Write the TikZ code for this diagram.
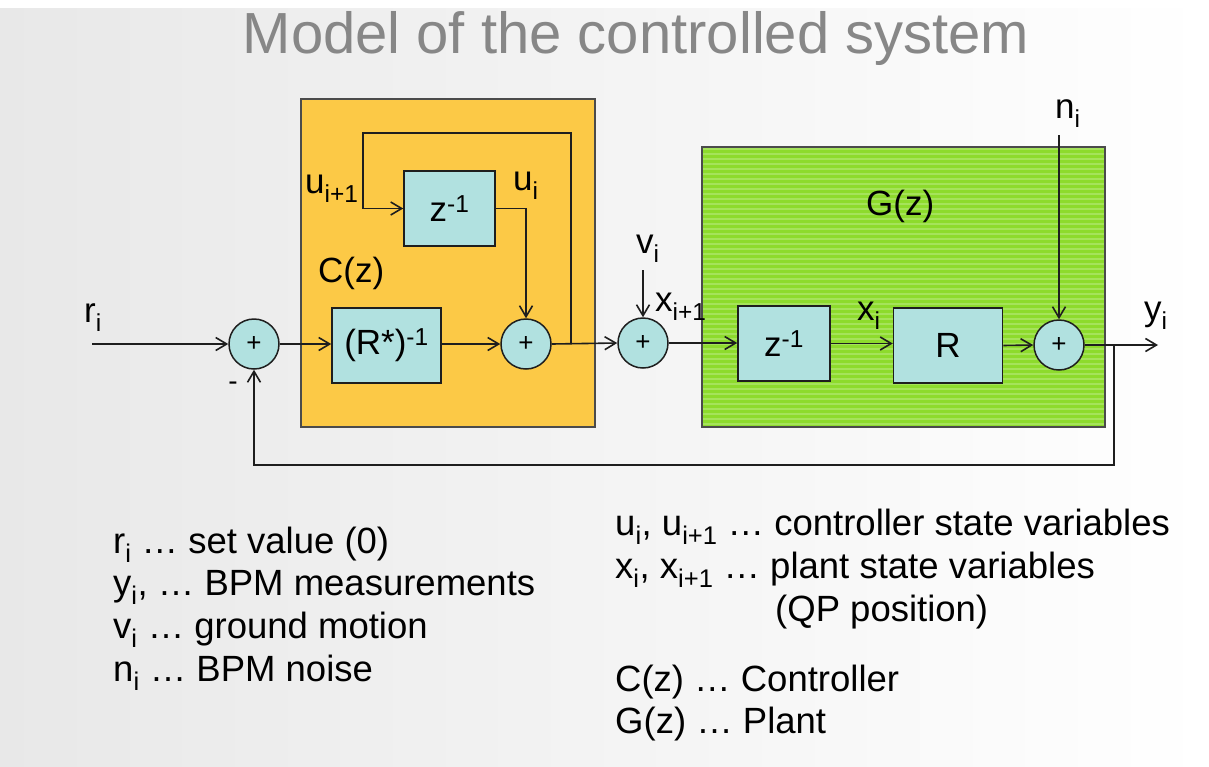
\documentclass[tikz,border=0pt]{standalone}
\usepackage{fontspec}
\setmainfont{Liberation Sans}
\usetikzlibrary{arrows.meta,calc}
\definecolor{orangebox}{HTML}{FCC946}
\definecolor{greenbox}{HTML}{8DDB2C}
\definecolor{greenstripe}{HTML}{A5E35A}
\definecolor{cyanbox}{HTML}{B1E1E0}
\definecolor{linec}{HTML}{1E1E1E}
\definecolor{titlegray}{HTML}{878787}
\newcommand\lo[1]{\textsubscript{#1}}
\newcommand\hi[1]{\textsuperscript{#1}}
\begin{document}
\begin{tikzpicture}[x=1pt,y=-1pt,
  lbl/.style={font=\fontsize{35}{40}\selectfont, inner sep=0pt, anchor=base west},
  blk/.style={draw=linec, line width=1.5pt, fill=cyanbox, font=\fontsize{35}{40}\selectfont, inner sep=0pt},
  sumc/.style={circle, draw=linec, line width=1.5pt, fill=cyanbox, minimum size=50pt, inner sep=0pt, font=\fontsize{26}{26}\selectfont},
  conn/.style={draw=linec, line width=1.6pt},
  arr/.style={conn, -{Straight Barb[length=11pt,width=13pt,line width=1.6pt]}},
  legend/.style={font=\fontsize{36.5}{40}\selectfont, inner sep=0pt, anchor=base west},
  panel/.style={draw=linec!80, line width=1.3pt, inner sep=0pt},
]
\useasboundingbox (0,0) rectangle (1209,766);
\shade[left color=black!9, right color=white] (0,0) rectangle (1209,766);
\fill[white] (0,0) rectangle (1209,8);

% title
\node[font=\fontsize{58}{60}\selectfont, text=titlegray, anchor=base, inner sep=0pt] (title) at (636,53) {Model of the controlled system};

% panels
\node[panel, fill=orangebox, minimum width=294pt, minimum height=328pt] (cbox) at (448,263) {};
\node[panel, fill=greenbox, minimum width=403pt, minimum height=280pt] (gbox) at (903.5,287) {};
\begin{scope}
  \clip (gbox.south west) rectangle (gbox.north east);
  \foreach \yy in {149,154,...,430} {
    \draw[greenstripe, line width=2.2pt] (700,\yy) -- (1108,\yy);
  }
\end{scope}
\node[panel, minimum width=403pt, minimum height=280pt] (gframe) at (903.5,287) {};

% blocks
\node[blk, minimum width=91pt, minimum height=75pt] (z1) at (449.5,208.5) {z\hi{-1}};
\node[blk, minimum width=109pt, minimum height=75pt] (rinv) at (386.5,345.5) {(R*)\hi{-1}};
\node[blk, minimum width=92pt, minimum height=75pt] (z2) at (784,343.5) {z\hi{-1}};
\node[blk, minimum width=109pt, minimum height=75pt] (R) at (948,345.5) {R};

% summing junctions
\node[sumc] (s1) at (254,344) {+};
\node[sumc] (s2) at (526,344) {+};
\node[sumc] (s3) at (643,343) {+};
\node[sumc] (s4) at (1059,345) {+};

% free ends
\coordinate (rin) at (92,344);
\coordinate (j1) at (571,344);
\coordinate (lt) at (363,133);
\coordinate (vtop) at (643,270);
\coordinate (ntop) at (1059,135);
\coordinate (yout) at (1158,345);
\coordinate (j2) at (1114,345);
\coordinate (fb) at (1114,465);

% connectors
\draw[arr] (rin) -- (s1.west);
\draw[arr] (s1.east) -- (rinv.west |- s1.east);
\draw[arr] (rinv.east |- s2.west) -- (s2.west);
\draw[arr] (s2.east) -- (s3.west);
\draw[arr] (j1) |- (lt) |- (z1.west);
\draw[arr] (z1.east) -| (s2.north);
\draw[arr] (vtop) -- (s3.north);
\draw[arr] (s3.east) -- (z2.west |- s3.east);
\draw[arr] (z2.east) -- (R.west |- z2.east);
\draw[arr] (R.east) -- (s4.west);
\draw[arr] (ntop) -- (s4.north);
\draw[arr] (s4.east) -- (yout);
\draw[arr] (j2) -- (fb) -| (s1.south);

% labels
\node[lbl] (lr) at (84,322) {r\lo{i}};
\node[font=\fontsize{28}{28}\selectfont, inner sep=0pt] (lminus) at (233,386) {-};
\node[lbl] (lu1) at (305,193) {u\lo{i+1}};
\node[lbl] (lu) at (513,190) {u\lo{i}};
\node[lbl] (lc) at (318,282) {C(z)};
\node[lbl] (lv) at (636,253) {v\lo{i}};
\node[lbl] (lx1) at (655,311) {x\lo{i+1}};
\node[lbl] (lx) at (857,320) {x\lo{i}};
\node[lbl] (ln) at (1055,118) {n\lo{i}};
\node[lbl] (ly) at (1144,320) {y\lo{i}};
\node[lbl] (lg) at (866,215) {G(z)};

% legend
\node[legend] (l1) at (113,553) {r\lo{i} … set value (0)};
\node[legend] (l2) at (113,595) {y\lo{i}, … BPM measurements};
\node[legend] (l3) at (113,638) {v\lo{i} … ground motion};
\node[legend] (l4) at (113,681) {n\lo{i} … BPM noise};
\node[legend] (r1) at (615,535) {u\lo{i}, u\lo{i+1} … controller state variables};
\node[legend] (r2) at (615,578) {x\lo{i}, x\lo{i+1} … plant state variables};
\node[legend] (r3) at (775,621) {(QP position)};
\node[legend] (r4) at (615,691) {C(z) … Controller};
\node[legend] (r5) at (615,733) {G(z) … Plant};
\end{tikzpicture}
\end{document}
